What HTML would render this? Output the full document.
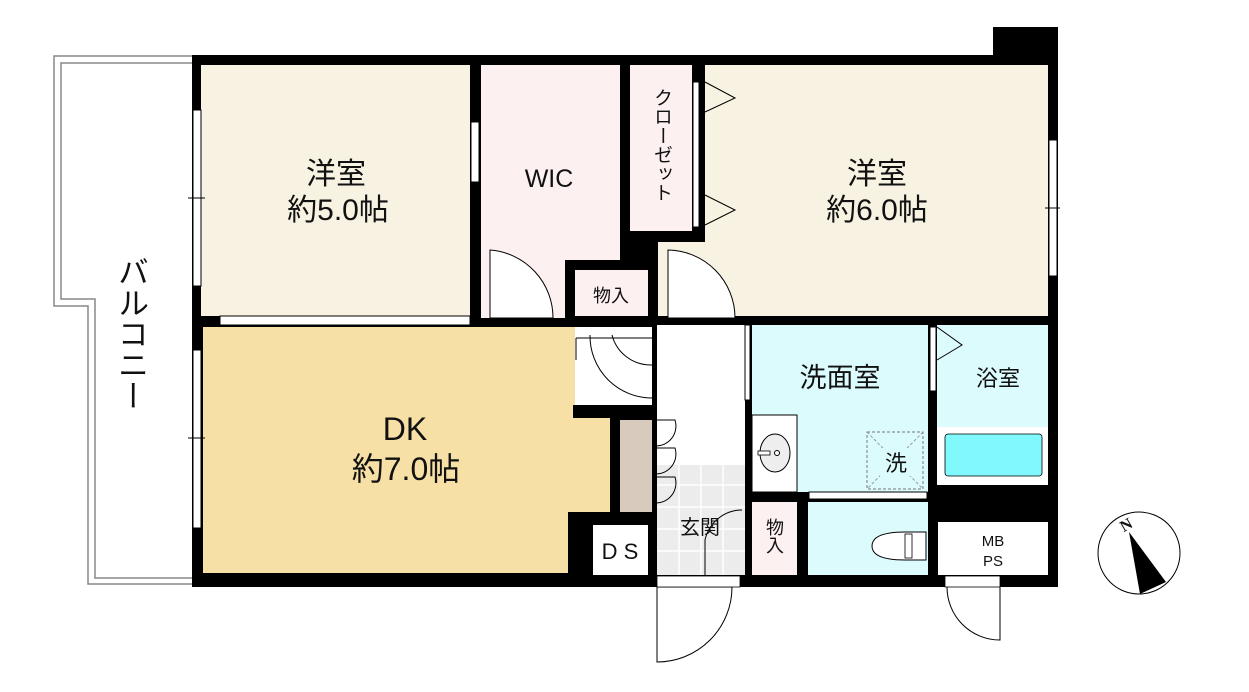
<!DOCTYPE html>
<html><head><meta charset="utf-8"><style>
html,body{margin:0;padding:0;background:#fff;}
svg{display:block;}
text{font-family:"Liberation Sans","Noto Sans CJK JP",sans-serif;fill:#111;}
.v{position:absolute;writing-mode:vertical-rl;font-family:"Liberation Sans","Noto Sans CJK JP",sans-serif;color:#111;line-height:1;}
</style></head><body>
<div style="position:relative;width:1249px;height:692px;">
<svg width="1249" height="692" viewBox="0 0 1249 692" xmlns="http://www.w3.org/2000/svg">
<polyline points="192,56 54,56 54,306 88,306 88,584 192,584" fill="none" stroke="#888" stroke-width="1.5"/>
<polyline points="192,63 61,63 61,299 95,299 95,578 192,578" fill="none" stroke="#888" stroke-width="1.5"/>

<rect x="192" y="55" width="866" height="532" fill="#000"/>
<rect x="993" y="27" width="65" height="63" fill="#000"/>

<rect x="201" y="65" width="269" height="251" fill="#f8f2e2"/>
<rect x="481" y="65" width="139" height="195" fill="#fdf0f0"/>
<rect x="481" y="258" width="84" height="60" fill="#fdf0f0"/>
<rect x="575" y="270" width="73" height="46" fill="#fdf0f0"/>
<rect x="630" y="65" width="62" height="166" fill="#fdf0f0"/>
<rect x="705" y="65" width="343" height="251" fill="#f8f2e2"/>
<rect x="658" y="242" width="50" height="74" fill="#f8f2e2"/>
<rect x="203" y="327" width="407" height="246" fill="#f6e0a6"/>
<rect x="575" y="327" width="77" height="78" fill="#fff"/>
<rect x="573" y="405" width="82" height="13" fill="#000"/>
<rect x="620" y="420" width="32" height="92" fill="#d8cbbd"/>
<rect x="657" y="325" width="88" height="140" fill="#fff"/>
<rect x="657" y="465" width="88" height="110" fill="#ececec"/>
<g stroke="#fff" stroke-width="1.5">
<line x1="657" y1="485" x2="745" y2="485"/><line x1="657" y1="507" x2="745" y2="507"/><line x1="657" y1="529" x2="745" y2="529"/><line x1="657" y1="551" x2="745" y2="551"/>
<line x1="679" y1="465" x2="679" y2="575"/><line x1="701" y1="465" x2="701" y2="575"/><line x1="723" y1="465" x2="723" y2="575"/>
</g>
<rect x="568" y="512" width="89" height="75" fill="#000"/>
<rect x="593" y="525" width="55" height="50" fill="#fff"/>
<rect x="752" y="325" width="176" height="167" fill="#dcfbfd"/>
<rect x="752" y="415" width="45" height="77" fill="#fff" stroke="#000" stroke-width="1"/>
<ellipse cx="775" cy="453" rx="15" ry="19" fill="#eee" stroke="#000"/>
<circle cx="777" cy="453" r="2.5" fill="#fff" stroke="#000"/>
<rect x="758" y="451" width="12" height="4" fill="#fff" stroke="#000" stroke-width="0.8"/>
<rect x="937" y="325" width="111" height="160" fill="#dcfbfd"/>
<rect x="937" y="427" width="111" height="58" fill="#fff"/>
<rect x="945" y="434" width="97" height="42" rx="3" fill="#80f8fc" stroke="#000" stroke-width="0.8"/>
<rect x="808" y="502" width="120" height="73" fill="#dcfbfd"/>
<rect x="752" y="502" width="45" height="73" fill="#fdf0f0"/>
<rect x="938" y="522" width="110" height="53" fill="#fff"/>
<path d="M926,532 L905,532 Q872,532 872,546 Q872,560 905,560 L926,560 Z" fill="#fff" stroke="#000"/>
<rect x="905" y="534" width="7" height="24" fill="#fff" stroke="#000" stroke-width="0.8"/>
<rect x="867" y="432" width="56" height="57" fill="none" stroke="#777" stroke-dasharray="3,2"/>
<line x1="867" y1="432" x2="923" y2="489" stroke="#999" stroke-dasharray="3,2"/>
<line x1="923" y1="432" x2="867" y2="489" stroke="#999" stroke-dasharray="3,2"/>
<rect x="880" y="448" width="32" height="28" fill="#dcfbfd"/>

<g fill="#fff" stroke="#000" stroke-width="1">
<rect x="193" y="110" width="8" height="176"/>
<rect x="193" y="350" width="8" height="178"/>
<rect x="1049" y="140" width="8" height="136"/>
<rect x="471" y="122" width="8" height="60"/>
<rect x="220" y="316" width="250" height="9"/>
<rect x="693" y="82" width="6" height="145"/>
<rect x="930" y="327" width="6" height="64"/>
<rect x="809" y="492" width="118" height="7"/>
<rect x="745" y="325" width="5" height="75"/>
</g>
<line x1="188" y1="198" x2="205" y2="198" stroke="#000"/>
<line x1="188" y1="438" x2="205" y2="438" stroke="#000"/>
<line x1="1045" y1="208" x2="1060" y2="208" stroke="#000"/>

<g fill="#fff" stroke="#000" stroke-width="1">
<path d="M490,318 L490,250 A68,68 0 0 1 553,318 Z"/>
<path d="M668,318 L668,250 A68,68 0 0 1 735,318 Z"/>
<path d="M705,82 L735,98 L705,112" fill="none"/>
<path d="M705,195 L735,210 L705,225" fill="none"/>
<path d="M937,327 L962,345 L937,360" fill="none"/>
<path d="M576,338 L576,360 M653,338 L576,338" fill="none"/>
<path d="M590,335 A62,62 0 0 0 652,398" fill="none"/>
<path d="M612,335 A40,40 0 0 0 652,365" fill="none"/>
<path d="M652,420 L675,420 A20,20 0 0 1 655,446" fill="none"/>
<path d="M652,448 L675,448 A20,20 0 0 1 655,474" fill="none"/>
<path d="M652,477 L675,477 A20,20 0 0 1 655,503" fill="none"/>
<path d="M705,575 L705,540 A38,38 0 0 1 742,510" fill="none"/>
<path d="M657,587 L657,662 A75,75 0 0 0 732,587 Z"/>
<path d="M947,587 A53,53 0 0 0 1000,640 L1000,587" fill="none"/>
</g>
<rect x="657" y="576" width="83" height="11" fill="#fff" stroke="#000" stroke-width="0.8"/>
<rect x="945" y="576" width="55" height="11" fill="#fff" stroke="#000" stroke-width="0.8"/>

<text x="336" y="184" font-size="30" text-anchor="middle">洋室</text>
<text x="338" y="220" font-size="30" text-anchor="middle">約5.0帖</text>
<text x="549" y="187" font-size="25" text-anchor="middle">WIC</text>
<text x="877" y="184" font-size="30" text-anchor="middle">洋室</text>
<text x="877" y="220" font-size="30" text-anchor="middle">約6.0帖</text>
<text x="405" y="440" font-size="32" text-anchor="middle">DK</text>
<text x="406" y="480" font-size="32" text-anchor="middle">約7.0帖</text>
<text x="611" y="302" font-size="18" text-anchor="middle">物入</text>
<text x="840" y="387" font-size="27" text-anchor="middle">洗面室</text>
<text x="998" y="386" font-size="22" text-anchor="middle">浴室</text>
<text x="896" y="471" font-size="22" text-anchor="middle">洗</text>
<text x="700" y="534" font-size="20" text-anchor="middle">玄関</text>
<text x="620" y="559" font-size="22" text-anchor="middle">D S</text>
<text x="993" y="546" font-size="15" text-anchor="middle">MB</text>
<text x="993" y="566" font-size="15" text-anchor="middle">PS</text>

<circle cx="1139" cy="553" r="41" fill="#fff" stroke="#000"/>
<polygon points="1129,532 1166,582 1140,594" fill="#000"/>
<text x="1120" y="530" font-size="16" font-weight="bold" transform="rotate(-30 1126 524)" style="font-family:'Liberation Serif',serif">N</text>
</svg>
<div class="v" style="left:115px;top:256px;font-size:31px;">バルコニー</div>
<div class="v" style="left:652px;top:88px;font-size:19px;">クローゼット</div>
<div class="v" style="left:765px;top:518px;font-size:18px;">物入</div>
</div>
</body></html>
